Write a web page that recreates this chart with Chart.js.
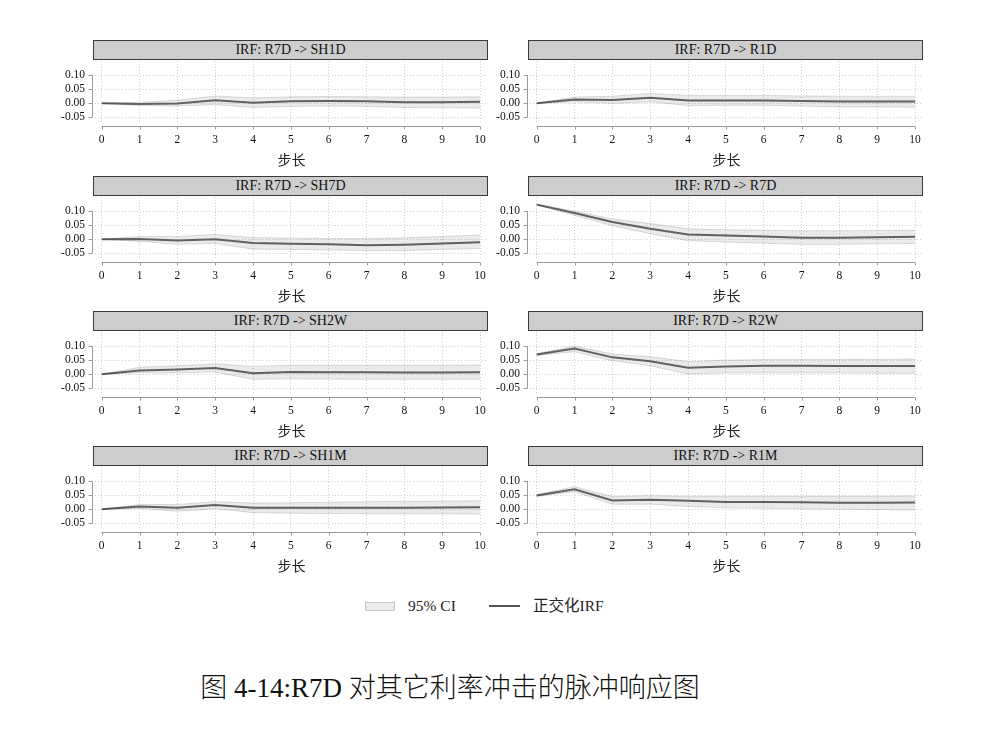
<!DOCTYPE html>
<html><head><meta charset="utf-8">
<script src="https://cdn.jsdelivr.net/npm/chart.js@4.4.1/dist/chart.umd.min.js"></script>
<style>
html,body{margin:0;padding:0;background:#fff;}
body{width:1000px;height:733px;position:relative;overflow:hidden;}
canvas{position:absolute;}
.hdr{position:absolute;width:395px;height:20px;box-sizing:border-box;background:#cdcdcd;border:1px solid #3a3a3a;
  font-family:"Liberation Serif",serif;font-size:14px;color:#111;text-align:center;line-height:18px;z-index:2;}
.leg{position:absolute;font-family:"Liberation Serif","Noto Sans CJK SC",serif;font-size:15.5px;color:#222;line-height:16px;}
#cap{position:absolute;left:0;width:900px;top:671px;text-align:center;font-family:"Liberation Serif","Noto Sans CJK SC",serif;font-size:27px;color:#111;font-weight:300;line-height:34px;}
</style></head>
<body>
<div class="leg" style="left:365px;top:602px;width:30px;height:9px;box-sizing:border-box;background:#ebebeb;border:1px solid #c4c4c4;"></div>
<div class="leg" style="left:408px;top:598px;">95% CI</div>
<div class="leg" style="left:489px;top:605px;width:31px;height:2px;background:#555;"></div>
<div class="leg" style="left:533px;top:598px;">正交化IRF</div>
<div id="cap">图 4-14:R7D 对其它利率冲击的脉冲响应图</div>
<script>
const steps = [0,1,2,3,4,5,6,7,8,9,10];
const yTickValues = [-0.05, 0, 0.05, 0.10];
const panelTitles = ['IRF: R7D -> SH1D','IRF: R7D -> R1D','IRF: R7D -> SH7D','IRF: R7D -> R7D',
                     'IRF: R7D -> SH2W','IRF: R7D -> R2W','IRF: R7D -> SH1M','IRF: R7D -> R1M'];
const xAxisTitle = '步长';

const irfSH1D = [0,-0.003,-0.001,0.011,0.002,0.007,0.008,0.007,0.004,0.004,0.005];
const loSH1D  = [0,-0.008,-0.010,-0.005,-0.015,-0.011,-0.010,-0.011,-0.015,-0.016,-0.017];
const hiSH1D  = [0,0.004,0.011,0.026,0.019,0.023,0.024,0.023,0.022,0.022,0.023];

const irfR1D = [0,0.013,0.012,0.020,0.010,0.010,0.010,0.008,0.006,0.006,0.006];
const loR1D  = [0,0.005,0.000,0.005,-0.008,-0.007,-0.007,-0.010,-0.013,-0.013,-0.014];
const hiR1D  = [0,0.022,0.025,0.035,0.028,0.028,0.028,0.026,0.025,0.025,0.025];

const irfSH7D = [0,0.001,-0.004,0.000,-0.013,-0.016,-0.018,-0.021,-0.019,-0.015,-0.011];
const loSH7D  = [0,-0.007,-0.018,-0.015,-0.035,-0.036,-0.038,-0.040,-0.040,-0.036,-0.033];
const hiSH7D  = [0,0.010,0.010,0.017,0.006,0.004,0.003,0.003,0.005,0.010,0.015];

const irfR7D = [0.123,0.093,0.061,0.037,0.017,0.013,0.010,0.005,0.005,0.007,0.009];
const loR7D  = [0.122,0.085,0.048,0.020,-0.005,-0.010,-0.014,-0.018,-0.018,-0.016,-0.015];
const hiR7D  = [0.124,0.100,0.072,0.056,0.037,0.034,0.032,0.030,0.030,0.031,0.032];

const irfSH2W = [0,0.013,0.017,0.022,0.004,0.008,0.007,0.007,0.006,0.006,0.007];
const loSH2W  = [0,0.005,0.005,0.008,-0.018,-0.016,-0.017,-0.018,-0.018,-0.018,-0.018];
const hiSH2W  = [0,0.025,0.030,0.037,0.028,0.032,0.032,0.032,0.032,0.032,0.033];

const irfR2W = [0.070,0.091,0.060,0.046,0.023,0.028,0.030,0.030,0.029,0.029,0.029];
const loR2W  = [0.067,0.080,0.048,0.030,0.001,0.005,0.005,0.005,0.005,0.004,0.004];
const hiR2W  = [0.073,0.100,0.072,0.062,0.045,0.050,0.052,0.052,0.052,0.053,0.054];

const irfSH1M = [0,0.010,0.005,0.015,0.005,0.005,0.005,0.005,0.005,0.006,0.007];
const loSH1M  = [0,0.003,-0.007,0.002,-0.012,-0.014,-0.015,-0.016,-0.016,-0.016,-0.017];
const hiSH1M  = [0,0.017,0.017,0.027,0.022,0.023,0.025,0.027,0.028,0.029,0.030];

const irfR1M = [0.049,0.071,0.031,0.034,0.030,0.026,0.026,0.025,0.023,0.023,0.024];
const loR1M  = [0.046,0.062,0.018,0.018,0.010,0.005,0.004,0.002,0.000,-0.001,-0.003];
const hiR1M  = [0.052,0.080,0.045,0.048,0.046,0.046,0.046,0.046,0.046,0.046,0.047];

const panelIrf = [irfSH1D, irfR1D, irfSH7D, irfR7D, irfSH2W, irfR2W, irfSH1M, irfR1M];
const panelLo  = [loSH1D, loR1D, loSH7D, loR7D, loSH2W, loR2W, loSH1M, loR1M];
const panelHi  = [hiSH1D, hiR1D, hiSH7D, hiR7D, hiSH2W, hiR2W, hiSH1M, hiR1M];

Chart.defaults.font.family = '"Liberation Serif", serif';
Chart.defaults.color = '#111';

const axisLines = {
  id: 'axisLines',
  afterDraw(chart) {
    const {ctx, chartArea, scales: {x, y}} = chart;
    ctx.save();
    ctx.strokeStyle = '#9a9a9a'; ctx.lineWidth = 1; ctx.setLineDash([]);
    ctx.beginPath();
    const ax = Math.round(chartArea.left - 2) - 0.5;
    const yT = y.getPixelForValue(yTickValues[yTickValues.length - 1]);
    const yB = y.getPixelForValue(yTickValues[0]);
    ctx.moveTo(ax, yT); ctx.lineTo(ax, yB);
    yTickValues.forEach(v => { const p = Math.round(y.getPixelForValue(v)) + 0.5; ctx.moveTo(ax, p); ctx.lineTo(ax - 4, p); });
    const ay = Math.round(chartArea.bottom + 3) + 0.5;
    ctx.moveTo(x.getPixelForValue(steps[0]), ay); ctx.lineTo(x.getPixelForValue(steps[steps.length - 1]), ay);
    steps.forEach(v => { const p = Math.round(x.getPixelForValue(v)) + 0.5; ctx.moveTo(p, ay); ctx.lineTo(p, ay + 3); });
    ctx.stroke();
    ctx.restore();
  }
};

const rowTop = [40, 175.5, 310.5, 445.5];
const colShift = [0, 435];

panelTitles.forEach((title, i) => {
  const r = Math.floor(i / 2), c = i % 2;
  const Y0 = rowTop[r];
  const hdr = document.createElement('div');
  hdr.className = 'hdr';
  hdr.style.left = (93 + colShift[c]) + 'px';
  hdr.style.top = Y0 + 'px';
  hdr.textContent = title;
  document.body.appendChild(hdr);

  const cv = document.createElement('canvas');
  const cl = 30 + colShift[c];
  cv.width = 468; cv.height = 134;
  cv.style.left = cl + 'px'; cv.style.top = (Y0 - 3) + 'px';
  cv.style.width = '468px'; cv.style.height = '134px';
  document.body.appendChild(cv);

  const pts = arr => steps.map((s, k) => ({x: s, y: arr[k]}));
  new Chart(cv, {
    type: 'line',
    data: {
      datasets: [
        {data: pts(panelHi[i]), borderColor: 'rgba(0,0,0,0.13)', borderWidth: 1, backgroundColor: 'rgba(0,0,0,0.08)', fill: '+1', pointRadius: 0, tension: 0},
        {data: pts(panelLo[i]), borderColor: 'rgba(0,0,0,0.13)', borderWidth: 1, backgroundColor: 'rgba(0,0,0,0)', fill: false, pointRadius: 0, tension: 0},
        {data: pts(panelIrf[i]), borderColor: '#6a6a6a', borderWidth: 2, fill: false, pointRadius: 0, tension: 0}
      ]
    },
    options: {
      responsive: false, animation: false, devicePixelRatio: 1,
      layout: {padding: {top: 24, right: 10, left: 0, bottom: 0}},
      plugins: {legend: {display: false}, tooltip: {enabled: false}},
      scales: {
        x: {
          type: 'linear', min: -0.177, max: 10.21,
          afterBuildTicks: s => { s.ticks = steps.map(v => ({value: v})); },
          afterFit: s => { s.height = 48; },
          ticks: {padding: 10, font: {size: 11.5}, color: '#111', maxRotation: 0, autoSkip: false, callback: v => String(v)},
          grid: {color: '#cfcfcf', lineWidth: 1, drawTicks: false},
          border: {display: false, dash: [1, 2]},
          title: {display: true, text: xAxisTitle, font: {family: '"Noto Sans CJK SC", sans-serif', size: 14}, color: '#222', padding: {top: 0, bottom: 3}}
        },
        y: {
          type: 'linear', min: -0.07, max: 0.15,
          afterBuildTicks: s => { s.ticks = yTickValues.map(v => ({value: v})); },
          afterFit: s => { s.width = 65; },
          ticks: {padding: 10, font: {size: 11.5}, color: '#111', callback: v => Number(v).toFixed(2)},
          grid: {color: '#cfcfcf', lineWidth: 1, drawTicks: false},
          border: {display: false, dash: [1, 2]}
        }
      }
    },
    plugins: [axisLines]
  });
});
</script>
</body></html>
